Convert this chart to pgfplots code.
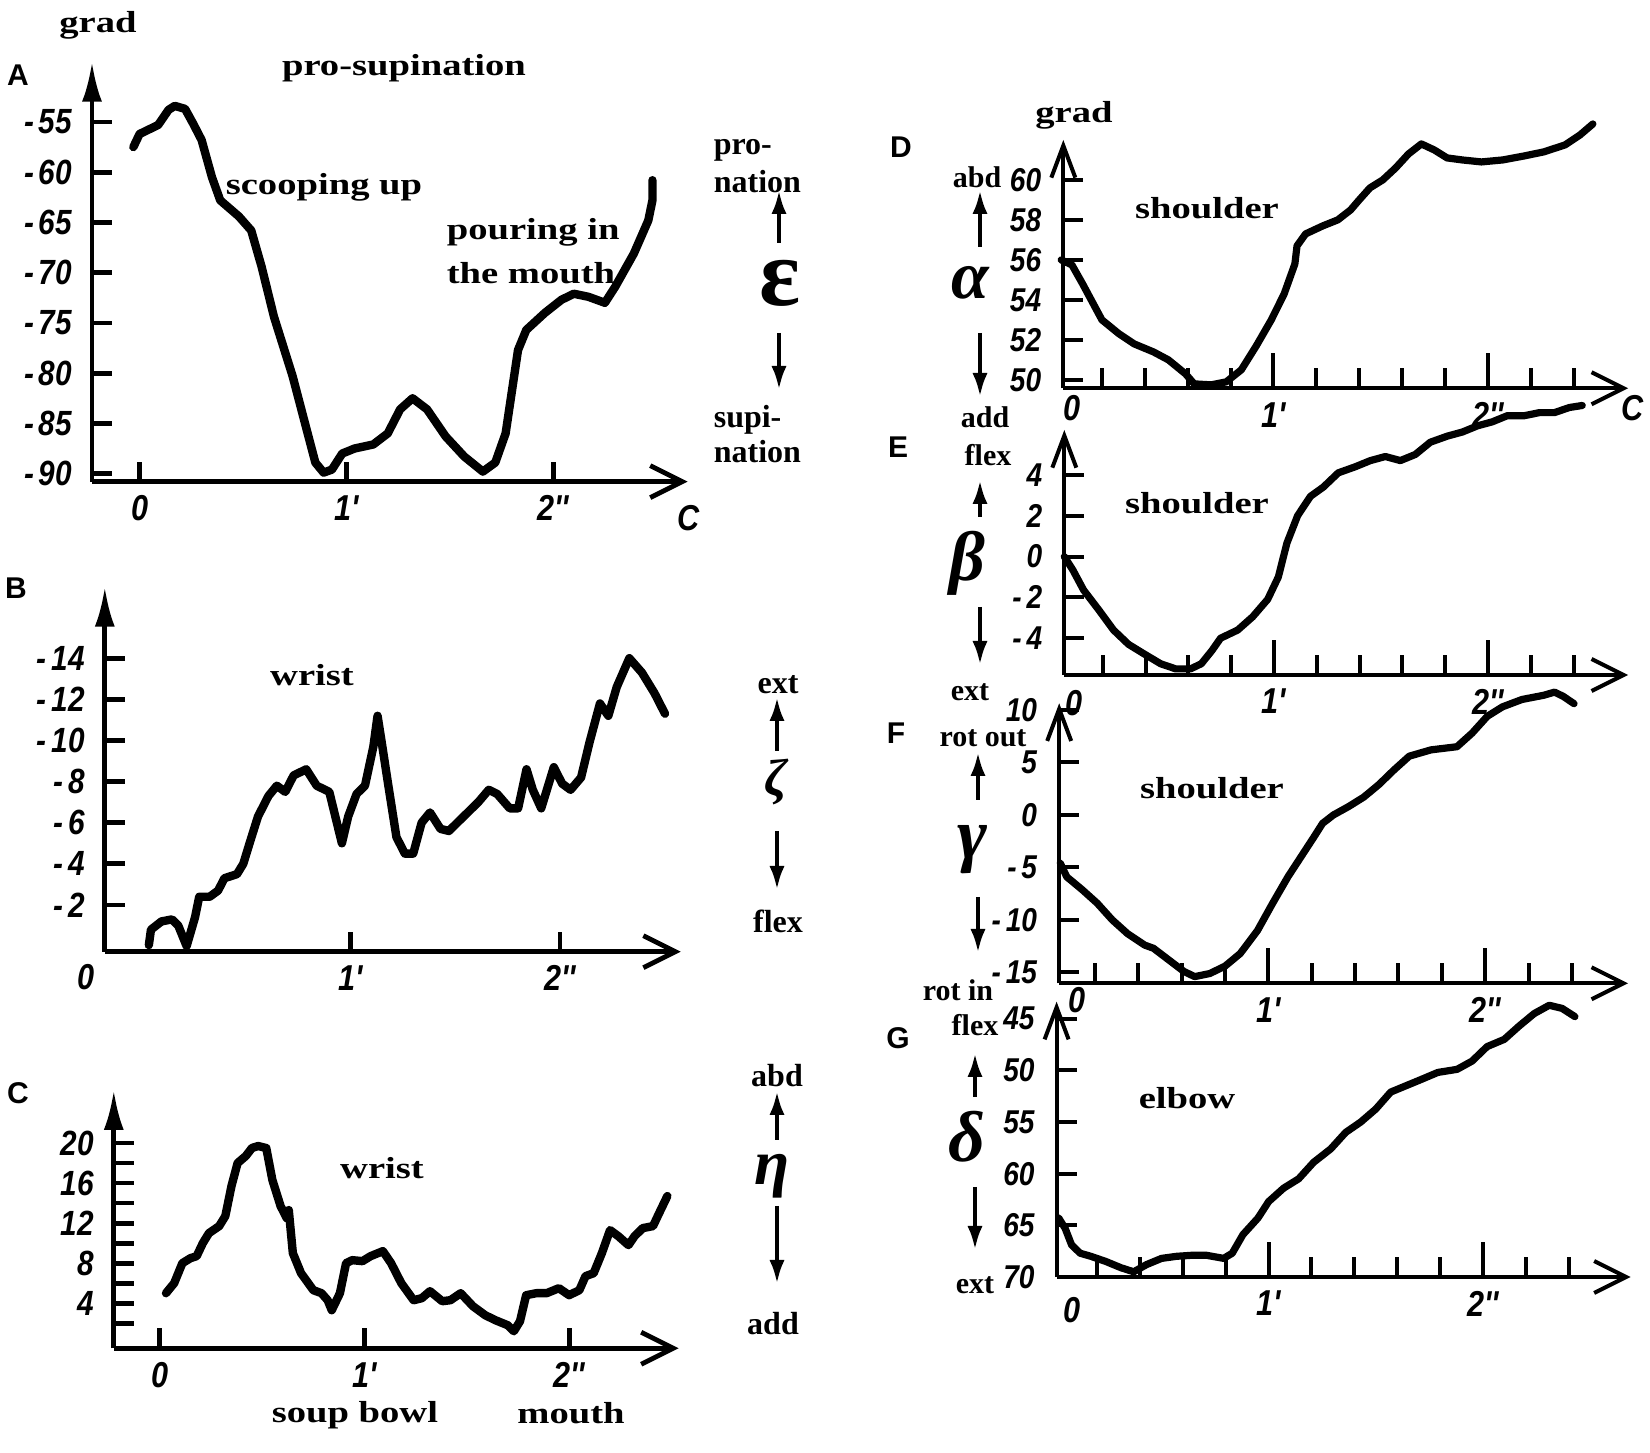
\documentclass[border=0pt]{standalone}
\usepackage{pgfplots}
\pgfplotsset{compat=1.18}
\usepackage{pgfplotstable}
\usetikzlibrary{arrows.meta}
\usepackage{fontspec}
\setmainfont{Liberation Serif}
\newfontfamily\labfont[FakeStretch=1.27]{Liberation Serif}
\newfontfamily\tickfont[FakeStretch=0.85]{Liberation Sans}
\newfontfamily\panfont{Liberation Sans}
\newfontfamily\greekfont{Liberation Serif}
\newcommand\fs[1]{\fontsize{#1}{#1}\selectfont}
\newcommand\m{-\kern1.2pt}

\pgfplotstableread{
t v
-0.03 -57.5
0.00 -56.2
0.05 -55.7
0.09 -55.3
0.14 -53.8
0.17 -53.4
0.22 -53.7
0.26 -55.2
0.30 -56.8
0.35 -60.5
0.39 -62.8
0.48 -64.4
0.54 -65.8
0.59 -69.4
0.65 -74.4
0.74 -80.3
0.80 -85.0
0.85 -88.9
0.89 -89.9
0.93 -89.6
0.98 -88.0
1.04 -87.5
1.13 -87.1
1.20 -86.0
1.26 -83.6
1.32 -82.5
1.39 -83.6
1.48 -86.3
1.57 -88.3
1.66 -89.8
1.72 -88.9
1.77 -86.0
1.83 -77.7
1.87 -75.7
1.96 -74.0
2.04 -72.7
2.10 -72.1
2.17 -72.4
2.25 -73.0
2.30 -71.4
2.39 -68.1
2.46 -64.8
2.48 -62.8
2.48 -60.8
}\tA

\pgfplotstableread{
t v
0.04 -0.05
0.05 -0.8
0.10 -1.2
0.15 -1.3
0.18 -1.0
0.22 0.0
0.26 -1.4
0.28 -2.4
0.33 -2.4
0.37 -2.7
0.40 -3.3
0.46 -3.5
0.49 -4.0
0.52 -5.0
0.56 -6.3
0.61 -7.3
0.65 -7.8
0.69 -7.5
0.73 -8.3
0.79 -8.6
0.84 -7.8
0.90 -7.5
0.96 -5.0
0.99 -6.3
1.03 -7.4
1.07 -7.8
1.11 -9.7
1.13 -11.2
1.15 -9.9
1.18 -7.9
1.22 -5.3
1.26 -4.5
1.30 -4.5
1.34 -6.0
1.38 -6.5
1.43 -5.7
1.47 -5.6
1.54 -6.3
1.61 -7.0
1.66 -7.6
1.70 -7.4
1.76 -6.7
1.80 -6.7
1.84 -8.6
1.87 -7.6
1.91 -6.7
1.97 -8.7
2.01 -7.9
2.05 -7.6
2.10 -8.2
2.14 -9.9
2.19 -11.8
2.23 -11.2
2.27 -12.6
2.33 -14.0
2.39 -13.3
2.45 -12.3
2.50 -11.3
}\tB

\pgfplotstableread{
t v
0.03 5.0
0.07 6.0
0.11 8.0
0.15 8.5
0.18 8.7
0.21 10.0
0.24 11.0
0.29 11.7
0.32 12.7
0.35 15.7
0.38 18.0
0.42 18.7
0.45 19.5
0.48 19.7
0.52 19.5
0.55 16.3
0.59 13.7
0.62 12.5
0.63 13.3
0.65 9.0
0.69 7.0
0.75 5.3
0.79 5.0
0.82 4.3
0.84 3.3
0.88 5.0
0.91 8.0
0.94 8.3
0.99 8.2
1.03 8.7
1.09 9.2
1.13 8.0
1.18 6.0
1.24 4.3
1.28 4.5
1.32 5.2
1.38 4.2
1.42 4.3
1.47 5.0
1.53 3.7
1.59 2.8
1.64 2.3
1.70 1.8
1.73 1.2
1.76 2.2
1.79 4.8
1.84 5.0
1.89 5.0
1.95 5.5
2.00 4.8
2.05 5.3
2.08 6.7
2.12 7.0
2.16 9.0
2.20 11.3
2.24 10.7
2.29 9.8
2.32 10.7
2.36 11.5
2.41 11.7
2.44 13.0
2.48 14.7
}\tC

\pgfplotstableread{
t v
0.01 56.0
0.06 55.75
0.11 54.8
0.16 53.8
0.20 53.0
0.28 52.3
0.35 51.8
0.44 51.4
0.51 51.0
0.59 50.3
0.63 49.8
0.71 49.75
0.78 49.9
0.85 50.5
0.92 51.7
0.99 53.0
1.05 54.3
1.10 55.8
1.11 56.7
1.15 57.3
1.23 57.7
1.30 58.0
1.36 58.5
1.40 59.0
1.45 59.6
1.51 60.0
1.57 60.6
1.63 61.3
1.69 61.8
1.75 61.5
1.81 61.1
1.88 61.0
1.97 60.9
2.07 61.0
2.17 61.2
2.26 61.4
2.36 61.75
2.43 62.25
2.49 62.8
}\tD

\pgfplotstableread{
t v
0.02 0.0
0.06 -0.66
0.11 -1.64
0.18 -2.6
0.25 -3.6
0.32 -4.3
0.39 -4.75
0.47 -5.25
0.54 -5.5
0.61 -5.5
0.66 -5.25
0.71 -4.6
0.75 -4.0
0.83 -3.6
0.90 -2.95
0.97 -2.1
1.02 -1.0
1.06 0.66
1.11 2.0
1.17 2.95
1.23 3.4
1.30 4.1
1.38 4.4
1.45 4.7
1.52 4.9
1.59 4.7
1.66 5.0
1.73 5.6
1.81 5.9
1.88 6.1
1.95 6.4
2.02 6.6
2.09 6.9
2.17 6.9
2.24 7.05
2.31 7.05
2.38 7.3
2.44 7.4
}\tE

\pgfplotstableread{
t v
0.04 -4.6
0.07 -5.9
0.14 -7.1
0.21 -8.4
0.28 -10.0
0.35 -11.3
0.43 -12.4
0.47 -12.7
0.54 -13.8
0.61 -14.9
0.66 -15.4
0.73 -15.1
0.80 -14.4
0.87 -13.2
0.95 -11.0
1.02 -8.4
1.09 -5.9
1.15 -4.0
1.21 -2.1
1.25 -0.8
1.30 0.0
1.37 0.8
1.44 1.7
1.51 2.9
1.58 4.3
1.65 5.6
1.75 6.2
1.87 6.5
1.94 7.8
2.01 9.4
2.08 10.3
2.17 11.0
2.27 11.4
2.32 11.7
2.36 11.3
2.41 10.6
}\tF

\pgfplotstableread{
t v
0.02 64.3
0.05 65.3
0.08 66.9
0.12 67.7
0.17 68.0
0.24 68.5
0.31 69.1
0.37 69.5
0.43 68.8
0.50 68.2
0.57 68.0
0.64 67.9
0.71 67.9
0.79 68.2
0.83 67.7
0.88 65.9
0.95 64.3
1.00 62.7
1.07 61.4
1.14 60.5
1.21 58.9
1.29 57.6
1.36 56.0
1.43 55.0
1.50 53.75
1.57 52.1
1.64 51.5
1.71 50.9
1.79 50.2
1.88 49.9
1.95 49.1
2.02 47.7
2.10 47.0
2.17 45.7
2.24 44.5
2.31 43.7
2.37 44.0
2.43 44.8
}\tG

\pgfplotsset{
  panel/.style={
    scale only axis, axis lines=left, enlargelimits=false, clip=false,
    anchor=south west,
    x axis line style={line width=1.2pt, -{Straight Barb[length=8pt,width=8pt]}},
    y axis line style={line width=1.2pt, -{Latex[length=10pt,width=5pt]}},
    tick align=inside, major tick length=5pt,
    tick style={line width=1.2pt, black},
    yticklabel style={font=\tickfont\bfseries\itshape\fs{8.75pt}, xshift=-1.5pt},
    xticklabel style={font=\tickfont\bfseries\itshape\fs{9pt}},
  },
  rpanel/.style={
    panel,
    x axis line style={line width=1pt, -{Straight Barb[length=8pt,width=8pt]}},
    y axis line style={line width=1pt, -{Straight Barb[length=8pt,width=6pt]}},
    tick style={line width=1pt, black},
    yticklabel style={font=\tickfont\bfseries\itshape\fs{8.25pt}, xshift=-0.5pt},
    xtick={0.2,0.4,0.6,0.8,1.2,1.4,1.6,1.8,2.2,2.4}, xticklabels={},
    extra x ticks={1,2}, extra x tick labels={1',2''},
    extra x tick style={major tick length=8.75pt, tick style={line width=1pt, black}},
  },
  curve/.style={line width=2.1pt, black, line join=round, line cap=round, no marks},
  rcurve/.style={line width=1.8pt, black, line join=round, line cap=round, no marks},
}

\begin{document}
\begin{tikzpicture}
\useasboundingbox (0,0) rectangle (412.5pt,363.25pt);

% ---------- A ----------
\begin{axis}[panel, at={(23pt,242.83pt)}, width=148.9pt, height=105pt,
  xmin=-0.23, xmax=2.65, ymin=-90.8, ymax=-49.0,
  xtick={0,1,2}, xticklabels={0,1',2''},
  ytick={-90,-85,-80,-75,-70,-65,-60,-55},
  yticklabels={\m90,\m85,\m80,\m75,\m70,\m65,\m60,\m55}]
\addplot[curve] table[x=t,y=v]{\tA};
\end{axis}

% ---------- B ----------
\begin{axis}[panel, at={(26.2pt,125.33pt)}, width=143.98pt, height=91.25pt,
  xmin=-0.17, xmax=2.575, ymin=-0.27, ymax=17.48,
  xtick={1,2}, xticklabels={1',2''},
  ytick={2,4,6,8,10,12,14},
  yticklabels={\m2,\m4,\m6,\m8,\m10,\m12,\m14}]
\addplot[curve] table[x=t,y expr=-\thisrow{v}]{\tB};
\end{axis}

% ---------- C ----------
\begin{axis}[panel, at={(28.45pt,26.18pt)}, width=141.2pt, height=64.58pt,
  xmin=-0.225, xmax=2.535, ymin=-0.5, ymax=25.3,
  xtick={0,1,2}, xticklabels={0,1',2''},
  ytick={2,4,6,8,10,12,14,16,18,20},
  yticklabels={,4,,8,,12,,16,,20}]
\addplot[curve] table[x=t,y=v]{\tC};
\end{axis}

% ---------- D ----------
\begin{axis}[rpanel, at={(265.83pt,266.18pt)}, width=141.18pt, height=62.08pt,
  xmin=0.02, xmax=2.654, ymin=49.58, ymax=62.0,
  ytick={50,52,54,56,58,60}, yticklabels={50,52,54,56,58,60}]
\addplot[rcurve] table[x=t,y=v]{\tD};
\end{axis}

% ---------- E ----------
\begin{axis}[rpanel, at={(266.08pt,194.5pt)}, width=140.93pt, height=61.25pt,
  xmin=0.02, xmax=2.654, ymin=-5.8, ymax=6.2,
  ytick={-4,-2,0,2,4}, yticklabels={\m4,\m2,0,2,4}]
\addplot[rcurve] table[x=t,y=v]{\tE};
\end{axis}

% ---------- F ----------
\begin{axis}[rpanel, at={(264.8pt,117.43pt)}, width=142.2pt, height=70pt,
  xmin=0.035, xmax=2.659, ymin=-16.03, ymax=10.64,
  ytick={-15,-10,-5,0,5,10}, yticklabels={\m15,\m10,\m5,0,5,10}]
\addplot[rcurve] table[x=t,y=v]{\tF};
\end{axis}

% ---------- G ----------
\begin{axis}[rpanel, at={(264.15pt,44pt)}, width=143.5pt, height=68.83pt,
  xmin=0.01, xmax=2.69, ymin=-70, ymax=-43.35,
  ytick={-70,-65,-60,-55,-50,-45}, yticklabels={70,65,60,55,50,45}]
\addplot[rcurve] table[x=t,y expr=-\thisrow{v}]{\tG};
\end{axis}

% ---------- annotations (pixel coordinates, origin top-left) ----------
\begin{scope}[x=0.25pt,y=-0.25pt,shift={(0pt,363.25pt)}]
\tikzset{
  big/.style={font=\labfont\bfseries\fs{7.6pt}, inner sep=0pt},
  mid/.style={font=\bfseries\fs{8pt}, inner sep=0pt},
  sml/.style={font=\bfseries\fs{7.5pt}, inner sep=0pt},
  pan/.style={font=\panfont\bfseries\fs{7.5pt}, inner sep=0pt},
  tl/.style={font=\tickfont\bfseries\itshape\fs{9pt}, inner sep=0pt},
  gr/.style={font=\greekfont\bfseries\itshape\fs{#1}, inner sep=0pt},
  arr/.style={line width=1.1pt, -{Latex[length=6pt,width=3.8pt]}},
}
% A
\node[big] at (98,25) {grad};
\node[pan] at (18,75) {A};
\node[big] at (404,68) {pro-supination};
\node[big] at (324,187) {scooping up};
\node[big, anchor=west] at (446,232) {pouring in};
\node[big, anchor=west] at (446,273) {the mouth};
\node[tl] at (689,518) {C};
% B
\node[pan] at (16,588) {B};
\node[big] at (312,675) {wrist};
\node[tl] at (86,977) {0};
% C
\node[pan] at (18,1093) {C};
\node[big] at (382,1168) {wrist};
\node[big] at (355,1415) {soup bowl};
\node[big] at (571,1413) {mouth};
% middle column
\node[mid, anchor=west] at (713,150) {pro-};
\node[mid, anchor=west] at (713,182) {nation};
\draw[arr] (779,243) -- (779,190);
\node[font=\greekfont\bfseries\fs{24pt}, inner sep=0pt] at (780,283) {ε};
\draw[arr] (779,333) -- (779,390);
\node[mid, anchor=west] at (713,420) {supi-};
\node[mid, anchor=west] at (713,452) {nation};
\node[mid] at (778,685) {ext};
\draw[arr] (777,751) -- (777,697);
\node[gr=13pt] at (776,782) {ζ};
\draw[arr] (777,831) -- (777,890);
\node[mid] at (778,921) {flex};
\node[mid] at (777,1076) {abd};
\draw[arr] (777,1140) -- (777,1091);
\node[gr=16pt] at (772,1176) {η};
\draw[arr] (777,1206) -- (777,1284);
\node[mid] at (773,1324) {add};
% D
\node[pan] at (901,147) {D};
\node[big] at (1074,115) {grad};
\node[big] at (1207,208) {shoulder};
\node[sml] at (977,177) {abd};
\draw[arr] (980,247) -- (980,190);
\node[gr=17pt] at (970,283) {α};
\draw[arr] (980,333) -- (980,397);
\node[sml] at (985,417) {add};
\node[tl] at (1072,408) {0};
\node[tl] at (1633,408) {C};
% E
\node[pan] at (898,447) {E};
\node[sml] at (988,455) {flex};
\draw[arr] (980,517) -- (980,480);
\node[gr=17.5pt] at (967,563) {β};
\draw[arr] (980,607) -- (980,665);
\node[sml] at (970,692) {ext};
\node[big] at (1197,503) {shoulder};
\node[tl] at (1074,703) {0};
% F
\node[pan] at (896,733) {F};
\node[sml] at (983,738) {rot out};
\draw[arr] (978,800) -- (978,752);
\node[gr=18pt] at (972,850) {γ};
\draw[arr] (978,897) -- (978,953);
\node[sml] at (958,990) {rot in};
\node[big] at (1212,788) {shoulder};
\node[tl] at (1077,1000) {0};
% G
\node[pan] at (898,1038) {G};
\node[sml] at (975,1025) {flex};
\draw[arr] (975,1097) -- (975,1053);
\node[gr=18pt] at (967,1137) {δ};
\draw[arr] (975,1187) -- (975,1250);
\node[sml] at (975,1285) {ext};
\node[big] at (1187,1098) {elbow};
\node[tl] at (1072,1310) {0};
\end{scope}
\end{tikzpicture}
\end{document}
